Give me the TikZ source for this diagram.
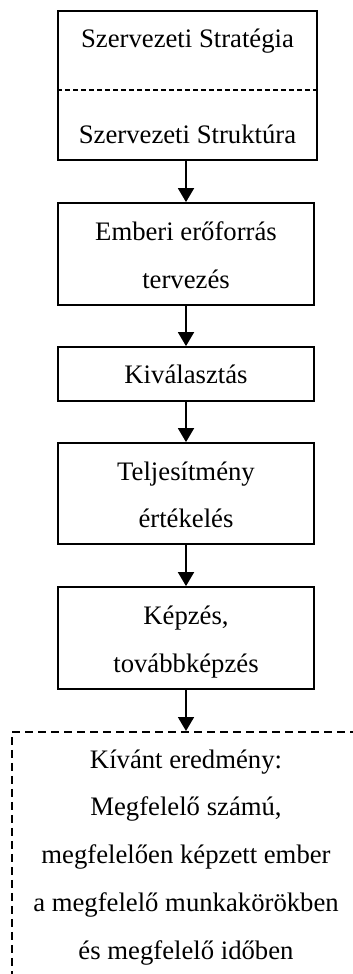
\documentclass[tikz,border=0pt]{standalone}
\usepackage{fontspec}
\setmainfont{Liberation Serif}
\usetikzlibrary{arrows.meta}
\begin{document}
\begin{tikzpicture}[x=1pt,y=-1pt,
  boxed/.style={draw,line width=1.8pt,rectangle,inner sep=0pt},
  lbl/.style={anchor=base,inner sep=0pt,font=\fontsize{26.7}{48}\selectfont},
  arr/.style={line width=1.8pt,-{Triangle[width=16pt,length=14pt]}},
  divline/.style={line width=1.6pt,dash pattern=on 5pt off 3pt},
  resline/.style={line width=1.8pt,dash pattern=on 8pt off 5pt}]
\useasboundingbox (0,0) rectangle (353,974);
\clip (0,0) rectangle (353,974);
\fill[white] (0,0) rectangle (353,974);

% process boxes
\node[boxed,minimum width=259pt,minimum height=149pt] (b1) at (187.5,85.5) {};
\node[boxed,minimum width=256pt,minimum height=102pt] (b2) at (186,254) {};
\node[boxed,minimum width=256pt,minimum height=54pt] (b3) at (186,374) {};
\node[boxed,minimum width=256pt,minimum height=101pt] (b4) at (186,493.5) {};
\node[boxed,minimum width=256pt,minimum height=102pt] (b5) at (186,638) {};
% result box, open to the right and bottom
\node[draw,resline,rectangle,minimum width=400pt,minimum height=300pt,anchor=north west] (res) at (11,731) {};
\coordinate (restop) at (186,731);

% divider inside the first box
\draw[divline] (b1.west |- 0,90) -- (b1.east |- 0,90);

% labels
\node[lbl] (t1) at (187.5,48) {Szervezeti Stratégia};
\node[lbl] (t2) at (187.5,143) {Szervezeti Struktúra};
\node[lbl] (t3) at (186,240) {Emberi erőforrás};
\node[lbl] (t4) at (186,288) {tervezés};
\node[lbl] (t5) at (186,383) {Kiválasztás};
\node[lbl] (t6) at (186,480) {Teljesítmény};
\node[lbl] (t7) at (186,527) {értékelés};
\node[lbl] (t8) at (186,624) {Képzés,};
\node[lbl] (t9) at (186,672) {továbbképzés};
\node[lbl] (r1) at (186,768) {Kívánt eredmény:};
\node[lbl] (r2) at (186,815) {Megfelelő számú,};
\node[lbl] (r3) at (186,863) {megfelelően képzett ember};
\node[lbl] (r4) at (186,911) {a megfelelő munkakörökben};
\node[lbl] (r5) at (186,959) {és megfelelő időben};

% connectors
\draw[arr] (b1.south -| b2.north) -- (b2.north);
\draw[arr] (b2.south) -- (b3.north);
\draw[arr] (b3.south) -- (b4.north);
\draw[arr] (b4.south) -- (b5.north);
\draw[arr] (b5.south) -- (restop);
\end{tikzpicture}
\end{document}
